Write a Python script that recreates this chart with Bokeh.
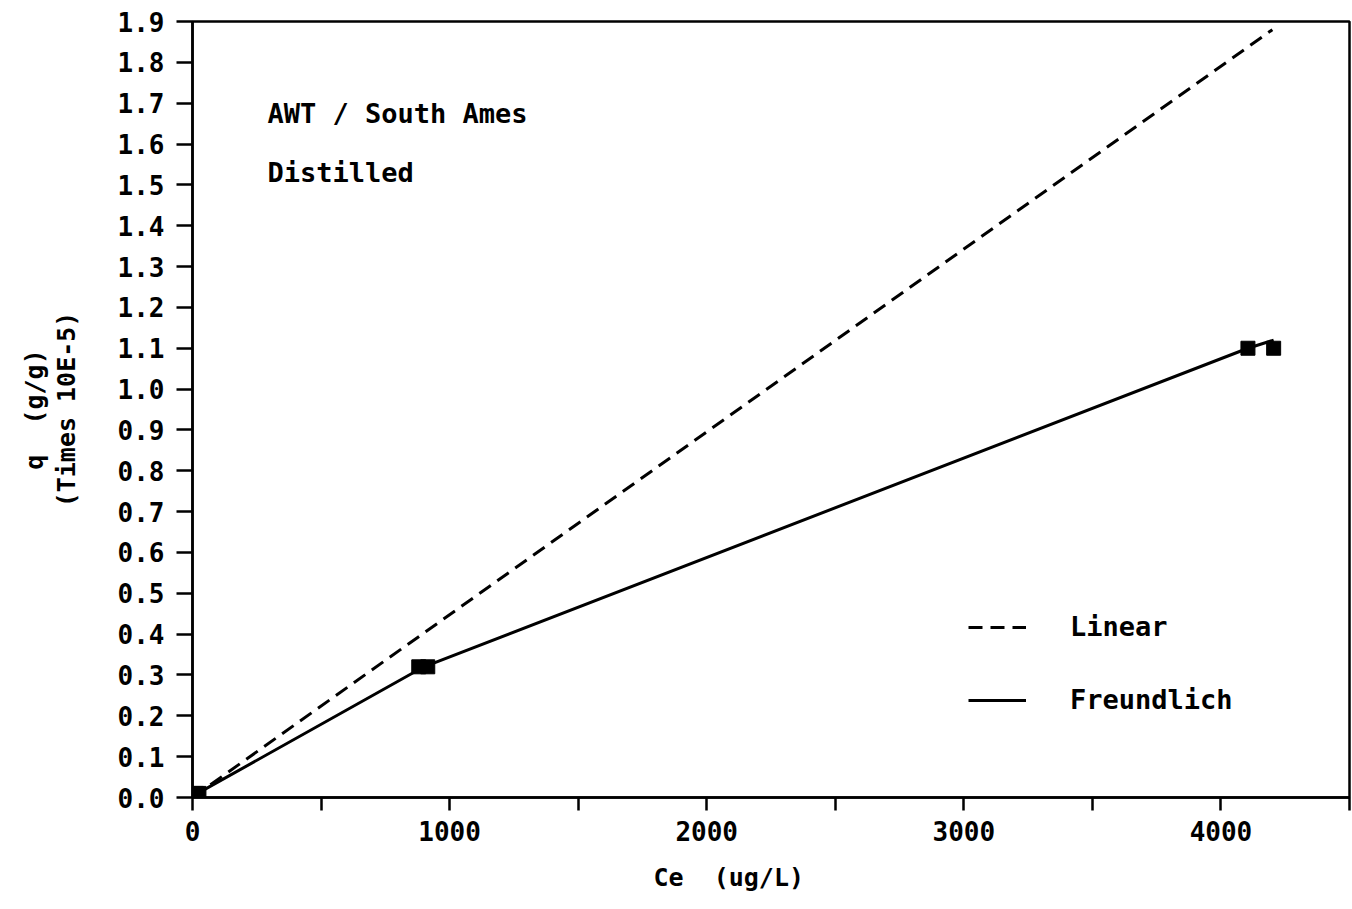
from bokeh.plotting import figure
from bokeh.models import (Range1d, FixedTicker, PrintfTickFormatter, Label,
                          Legend, LegendItem, Title)
from bokeh.embed import file_html
from bokeh.resources import INLINE

# ---- data ----
ce_points = [0, 5, 15, 25, 880, 915, 4105, 4205]
q_points = [0.0, 0.0, 0.01, 0.01, 0.32, 0.32, 1.10, 1.10]

linear_ce = [0, 4200]
linear_q = [0.0, 1.88]

freundlich_ce = [0, 20, 900, 4105, 4205]
freundlich_q = [0.0, 0.01, 0.32, 1.10, 1.12]

x_major = [0, 1000, 2000, 3000, 4000]
x_minor = [500, 1500, 2500, 3500, 4500]
y_ticks = [round(i * 0.1, 1) for i in range(20)]

FONT = "DejaVu Sans Mono"
NB = "\u00a0"

p = figure(width=1352, height=909, output_backend="svg", toolbar_location=None,
           x_range=Range1d(0, 4500), y_range=Range1d(0, 1.9),
           min_border_left=192, min_border_right=3, min_border_top=21,
           min_border_bottom=112)
p.grid.visible = False
p.background_fill_color = "white"
p.border_fill_color = "white"
p.outline_line_color = "black"
p.outline_line_width = 2.5

xa = p.xaxis[0]
xa.ticker = FixedTicker(ticks=x_major, minor_ticks=x_minor)
xa.major_tick_out = 13
xa.major_tick_in = 0
xa.minor_tick_out = 13
xa.minor_tick_in = 0
xa.axis_line_width = 2.5
xa.major_tick_line_width = 2.5
xa.minor_tick_line_width = 2.5
xa.major_label_text_font = FONT
xa.major_label_text_font_size = "26px"
xa.major_label_text_font_style = "bold"
xa.major_label_text_color = "black"
xa.major_label_standoff = 10

ya = p.yaxis[0]
ya.ticker = FixedTicker(ticks=y_ticks)
ya.formatter = PrintfTickFormatter(format="%.1f")
ya.major_tick_out = 16
ya.major_tick_in = 0
ya.minor_tick_out = 0
ya.minor_tick_in = 0
ya.axis_line_width = 2.5
ya.major_tick_line_width = 2.5
ya.major_label_text_font = FONT
ya.major_label_text_font_size = "26px"
ya.major_label_text_font_style = "bold"
ya.major_label_text_color = "black"
ya.major_label_standoff = 12
ya.axis_label = "(Times 10E-5)"
ya.axis_label_text_font = FONT
ya.axis_label_text_font_size = "25px"
ya.axis_label_text_font_style = "bold"
ya.axis_label_text_color = "black"
ya.axis_label_standoff = 34

lin = p.line(linear_ce, linear_q, line_color="black", line_width=3,
             line_dash="14 8")
fr = p.line(freundlich_ce, freundlich_q, line_color="black", line_width=3)
p.scatter(ce_points, q_points, marker="square", size=14, fill_color="black",
          line_color="black")

legend = Legend(items=[LegendItem(label="Linear", renderers=[lin]),
                       LegendItem(label="Freundlich", renderers=[fr])],
                location=(776, 82), background_fill_alpha=0,
                border_line_color=None, padding=0, margin=0,
                glyph_width=58, glyph_height=30, label_height=30,
                spacing=42, label_standoff=44,
                label_text_font=FONT, label_text_font_size="27px",
                label_text_font_style="bold", label_text_color="black")
p.add_layout(legend)

x_title = Title(text="Ce" + NB + NB + "(ug/L)", align="left", offset=461,
                standoff=34, text_font=FONT, text_font_size="25px",
                text_font_style="bold", text_color="black")
p.add_layout(x_title, "below")

q_title = Title(text="q" + NB + NB + "(g/g)", align="center", offset=0,
                standoff=0, text_font=FONT, text_font_size="25px",
                text_font_style="bold", text_color="black")
p.add_layout(q_title, "left")

def add_label(text, x, y):
    p.add_layout(Label(text=text, x=x, y=y, x_units="screen", y_units="screen",
                       text_font=FONT, text_font_size="27px",
                       text_font_style="bold", text_align="left",
                       text_baseline="middle", text_color="black"))

add_label("AWT / South Ames", 75, 797 - 113)
add_label("Distilled", 75, 797 - 172)

open("out.html", "w").write(file_html(p, INLINE))
